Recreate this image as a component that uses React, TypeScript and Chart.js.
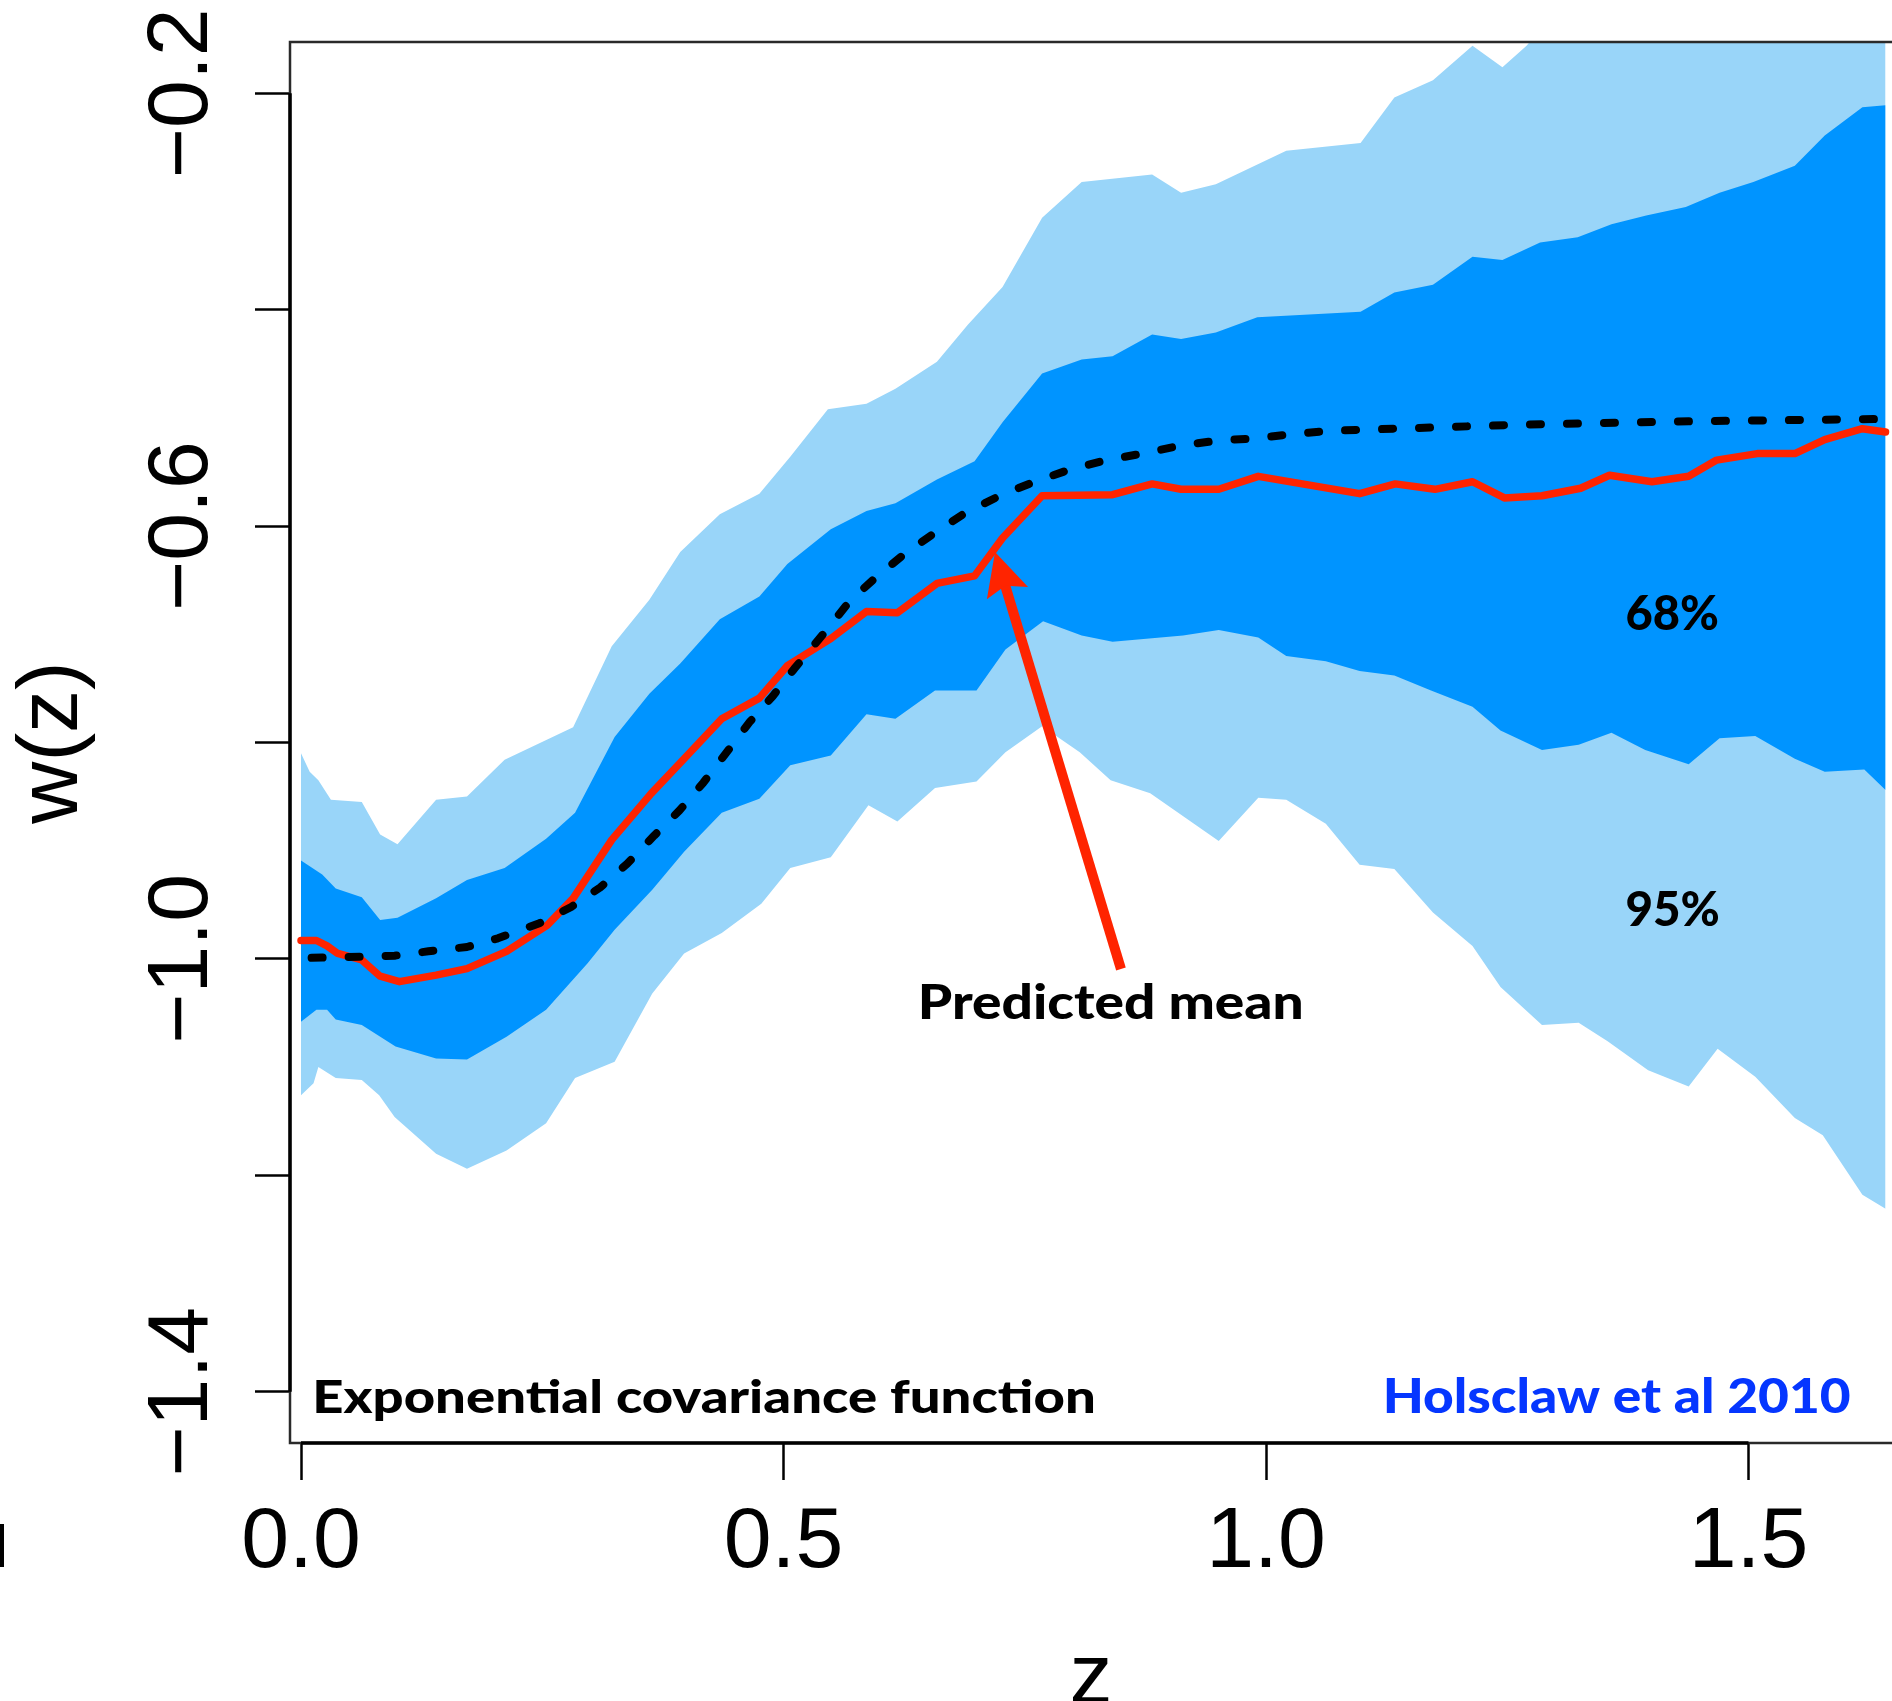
import React, { useEffect, useRef } from 'react';
import { Chart, registerables } from 'chart.js';

Chart.register(...registerables);

// ---------------- data ----------------
const upper95Z = [0.000, 0.009, 0.018, 0.031, 0.063, 0.082, 0.100, 0.140, 0.172, 0.211, 0.282, 0.322, 0.361, 0.393, 0.434, 0.475, 0.507, 0.546, 0.586, 0.616, 0.659, 0.691, 0.727, 0.768, 0.809, 0.882, 0.912, 0.948, 1.021, 1.098, 1.133, 1.173, 1.214, 1.245, 1.270, 1.300, 1.350, 1.400, 1.450, 1.500, 1.550, 1.600, 1.642];
const upper95W = [-0.810, -0.827, -0.835, -0.853, -0.855, -0.885, -0.894, -0.853, -0.850, -0.816, -0.786, -0.711, -0.668, -0.624, -0.589, -0.570, -0.536, -0.492, -0.487, -0.473, -0.448, -0.414, -0.379, -0.315, -0.282, -0.275, -0.292, -0.284, -0.253, -0.246, -0.204, -0.188, -0.156, -0.176, -0.156, -0.125, -0.115, -0.100, -0.090, -0.080, -0.065, -0.050, -0.040];

const upper68Z = [0.000, 0.022, 0.036, 0.063, 0.082, 0.100, 0.140, 0.172, 0.211, 0.254, 0.284, 0.325, 0.361, 0.393, 0.434, 0.475, 0.504, 0.549, 0.586, 0.616, 0.659, 0.698, 0.727, 0.768, 0.809, 0.841, 0.882, 0.912, 0.948, 0.991, 1.098, 1.133, 1.173, 1.214, 1.245, 1.284, 1.323, 1.358, 1.394, 1.435, 1.470, 1.505, 1.548, 1.579, 1.618, 1.642];
const upper68W = [-0.909, -0.922, -0.935, -0.943, -0.964, -0.962, -0.944, -0.927, -0.916, -0.889, -0.865, -0.795, -0.755, -0.727, -0.686, -0.665, -0.635, -0.603, -0.586, -0.579, -0.557, -0.540, -0.504, -0.459, -0.446, -0.443, -0.423, -0.427, -0.421, -0.407, -0.402, -0.384, -0.377, -0.351, -0.354, -0.338, -0.333, -0.321, -0.313, -0.305, -0.292, -0.282, -0.267, -0.239, -0.213, -0.211];

const lower68Z = [0.000, 0.016, 0.027, 0.036, 0.063, 0.098, 0.140, 0.172, 0.213, 0.254, 0.297, 0.325, 0.364, 0.397, 0.436, 0.475, 0.507, 0.549, 0.586, 0.616, 0.657, 0.700, 0.730, 0.769, 0.809, 0.841, 0.914, 0.951, 0.992, 1.021, 1.062, 1.097, 1.133, 1.171, 1.214, 1.243, 1.286, 1.324, 1.358, 1.393, 1.438, 1.470, 1.507, 1.548, 1.579, 1.620, 1.642];
const lower68W = [-1.058, -1.047, -1.047, -1.056, -1.061, -1.081, -1.092, -1.093, -1.072, -1.047, -1.004, -0.973, -0.936, -0.901, -0.865, -0.852, -0.821, -0.812, -0.774, -0.778, -0.752, -0.752, -0.714, -0.688, -0.701, -0.707, -0.701, -0.696, -0.703, -0.720, -0.725, -0.734, -0.738, -0.752, -0.767, -0.789, -0.807, -0.802, -0.791, -0.807, -0.820, -0.796, -0.794, -0.815, -0.827, -0.825, -0.844];

const lower95Z = [0.000, 0.013, 0.018, 0.036, 0.063, 0.081, 0.097, 0.140, 0.172, 0.213, 0.254, 0.284, 0.325, 0.364, 0.397, 0.436, 0.477, 0.507, 0.549, 0.588, 0.618, 0.657, 0.700, 0.730, 0.768, 0.807, 0.839, 0.880, 0.951, 0.992, 1.021, 1.062, 1.097, 1.133, 1.173, 1.214, 1.243, 1.286, 1.324, 1.354, 1.396, 1.438, 1.468, 1.507, 1.548, 1.577, 1.618, 1.642];
const lower95W = [-1.126, -1.115, -1.100, -1.110, -1.112, -1.126, -1.146, -1.180, -1.194, -1.177, -1.152, -1.110, -1.095, -1.032, -0.995, -0.976, -0.949, -0.916, -0.906, -0.858, -0.873, -0.842, -0.836, -0.809, -0.785, -0.809, -0.835, -0.847, -0.891, -0.851, -0.853, -0.875, -0.913, -0.917, -0.957, -0.988, -1.026, -1.061, -1.059, -1.076, -1.103, -1.118, -1.083, -1.109, -1.147, -1.163, -1.218, -1.231];

const meanZ = [0.000, 0.016, 0.027, 0.038, 0.063, 0.082, 0.102, 0.140, 0.172, 0.213, 0.255, 0.282, 0.322, 0.363, 0.397, 0.436, 0.475, 0.504, 0.549, 0.586, 0.618, 0.659, 0.698, 0.727, 0.768, 0.841, 0.882, 0.912, 0.951, 0.992, 1.097, 1.134, 1.175, 1.214, 1.247, 1.286, 1.326, 1.356, 1.400, 1.438, 1.467, 1.509, 1.548, 1.579, 1.618, 1.642];
const meanW = [-0.983, -0.983, -0.988, -0.995, -1.001, -1.016, -1.021, -1.015, -1.009, -0.993, -0.969, -0.944, -0.890, -0.847, -0.815, -0.778, -0.759, -0.729, -0.704, -0.679, -0.680, -0.653, -0.646, -0.611, -0.572, -0.571, -0.561, -0.566, -0.566, -0.554, -0.570, -0.561, -0.566, -0.559, -0.574, -0.572, -0.565, -0.553, -0.559, -0.554, -0.539, -0.533, -0.533, -0.520, -0.510, -0.513];

const trueZ = [0.011, 0.061, 0.097, 0.132, 0.172, 0.204, 0.247, 0.280, 0.310, 0.338, 0.366, 0.392, 0.417, 0.442, 0.465, 0.489, 0.511, 0.540, 0.569, 0.595, 0.625, 0.657, 0.688, 0.724, 0.760, 0.796, 0.834, 0.872, 0.909, 0.949, 0.988, 1.026, 1.065, 1.097, 1.273, 1.449, 1.642, 1.660];
const trueW = [-0.999, -0.998, -0.997, -0.993, -0.989, -0.981, -0.967, -0.952, -0.934, -0.912, -0.886, -0.863, -0.837, -0.808, -0.781, -0.757, -0.732, -0.701, -0.669, -0.648, -0.626, -0.606, -0.588, -0.572, -0.559, -0.548, -0.539, -0.533, -0.526, -0.521, -0.519, -0.515, -0.512, -0.511, -0.506, -0.503, -0.501, -0.501];

// ticks
const xTickValues = [0, 0.5, 1.0, 1.5];
const xTickLabels = ['0.0', '0.5', '1.0', '1.5'];
const yLabelValues = [-1.4, -1.0, -0.6, -0.2];
const yTickLabels = ['\u22121.4', '\u22121.0', '\u22120.6', '\u22120.2'];

// annotations (data coordinates)
const noteTexts = ['68%', '95%', 'Predicted mean', 'Exponential covariance function', 'Holsclaw et al 2010'];
const noteZLeft = [1.3735, 1.3735, 0.6428, 0.0155, 1.1244];
const noteZRight = [1.4684, 1.4694, 1.0371, 0.8217, 1.6056];
const noteW = [-0.696, -0.9696, -1.0555, -1.420, -1.420];
const noteColors = ['#000000', '#000000', '#000000', '#000000', '#0536ff'];
const noteSizes = [47, 47, 47, 45, 47];

const arrowTip = [0.7192, -0.6239];
const arrowTail = [0.8497, -1.0093];

// ---------------- layout / style ----------------
const W = 1892;
const H = 1701;
const LIGHT = '#99d5f9';
const DARK = '#0094ff';
const RED = '#ff2400';
const TICK_FONT = 'Liberation Sans';

const pts = (zs: number[], ws: number[]) => zs.map((z, i) => ({ x: z, y: ws[i] }));

const overlayPlugin = {
  id: 'overlay',
  afterDraw(chart: any) {
    const { ctx, chartArea: a } = chart;
    const xs = chart.scales.x;
    const ys = chart.scales.y;
    ctx.save();
    // plot box (open on the right, cropped in the reference)
    ctx.strokeStyle = '#2a2a2a';
    ctx.lineWidth = 2.5;
    ctx.beginPath();
    ctx.moveTo(a.right + 5, a.top);
    ctx.lineTo(a.left, a.top);
    ctx.lineTo(a.left, a.bottom);
    ctx.lineTo(a.right + 5, a.bottom);
    ctx.stroke();
    // R-style axis lines
    ctx.strokeStyle = '#000';
    ctx.lineWidth = 3.5;
    ctx.beginPath();
    ctx.moveTo(xs.getPixelForValue(xTickValues[0]), a.bottom);
    ctx.lineTo(xs.getPixelForValue(xTickValues[xTickValues.length - 1]), a.bottom);
    ctx.stroke();
    ctx.beginPath();
    ctx.moveTo(a.left, ys.getPixelForValue(yLabelValues[0]));
    ctx.lineTo(a.left, ys.getPixelForValue(yLabelValues[yLabelValues.length - 1]));
    ctx.stroke();

    // arrow
    const tx = xs.getPixelForValue(arrowTip[0]);
    const ty = ys.getPixelForValue(arrowTip[1]);
    const sx = xs.getPixelForValue(arrowTail[0]);
    const sy = ys.getPixelForValue(arrowTail[1]);
    const dx = tx - sx;
    const dy = ty - sy;
    const L = Math.hypot(dx, dy);
    const ux = dx / L;
    const uy = dy / L;
    const px = -uy;
    const py = ux;
    const headLen = 43;
    const halfW = 21.5;
    ctx.strokeStyle = RED;
    ctx.fillStyle = RED;
    ctx.lineWidth = 10;
    ctx.lineCap = 'butt';
    ctx.beginPath();
    ctx.moveTo(sx, sy);
    ctx.lineTo(tx - ux * headLen * 0.7, ty - uy * headLen * 0.7);
    ctx.stroke();
    const bx = tx - ux * headLen;
    const by = ty - uy * headLen;
    ctx.beginPath();
    ctx.moveTo(tx, ty);
    ctx.lineTo(bx + px * halfW, by + py * halfW);
    ctx.lineTo(tx - ux * headLen * 0.82, ty - uy * headLen * 0.82);
    ctx.lineTo(bx - px * halfW, by - py * halfW);
    ctx.closePath();
    ctx.fill();

    // text notes
    ctx.textAlign = 'left';
    ctx.textBaseline = 'alphabetic';
    for (let i = 0; i < noteTexts.length; i++) {
      ctx.font = `900 ${noteSizes[i]}px Lato, "Open Sans", sans-serif`;
      const m = ctx.measureText(noteTexts[i]);
      const inkW = m.actualBoundingBoxLeft + m.actualBoundingBoxRight;
      const left = xs.getPixelForValue(noteZLeft[i]);
      const right = xs.getPixelForValue(noteZRight[i]);
      const base = ys.getPixelForValue(noteW[i]);
      const k = (right - left) / inkW;
      ctx.save();
      ctx.translate(left, base);
      ctx.scale(k, 1);
      ctx.fillStyle = noteColors[i];
      ctx.fillText(noteTexts[i], m.actualBoundingBoxLeft, 0);
      ctx.restore();
    }

    // small stray mark at the far left of the reference
    ctx.fillStyle = '#000';
    ctx.fillRect(0, 1524, 4, 43);
    ctx.restore();
  },
};

export default function App() {
  const ref = useRef<HTMLCanvasElement | null>(null);

  useEffect(() => {
    document.body.style.margin = '0';
    document.body.style.overflow = 'hidden';
    const canvas = ref.current;
    if (!canvas) return;

    const band = (data: any[], color: string, fill: any) => ({
      data,
      borderColor: 'rgba(0,0,0,0)',
      borderWidth: 0,
      backgroundColor: color,
      fill,
      pointRadius: 0,
      pointHoverRadius: 0,
      pointHitRadius: 0,
      tension: 0,
    });

    const chart = new Chart(canvas, {
      type: 'line',
      data: {
        datasets: [
          {
            label: 'true w(z)',
            data: pts(trueZ, trueW),
            borderColor: '#000',
            borderWidth: 8,
            borderDash: [11, 26],
            borderCapStyle: 'round',
            borderJoinStyle: 'round',
            fill: false,
            pointRadius: 0,
            tension: 0,
          },
          {
            label: 'Predicted mean',
            data: pts(meanZ, meanW),
            borderColor: RED,
            borderWidth: 7.5,
            borderJoinStyle: 'round',
            borderCapStyle: 'round',
            fill: false,
            pointRadius: 0,
            tension: 0,
          },
          { label: '68% upper', ...band(pts(upper68Z, upper68W), DARK, '+1') },
          { label: '68% lower', ...band(pts(lower68Z, lower68W), 'rgba(0,0,0,0)', false) },
          { label: '95% upper', ...band(pts(upper95Z, upper95W), LIGHT, '+1') },
          { label: '95% lower', ...band(pts(lower95Z, lower95W), 'rgba(0,0,0,0)', false) },
        ] as any,
      },
      options: {
        animation: false,
        responsive: false,
        maintainAspectRatio: false,
        devicePixelRatio: 1,
        events: [],
        layout: { padding: { top: 42, left: 0, right: 0, bottom: 0 } },
        plugins: {
          legend: { display: false },
          tooltip: { enabled: false },
        },
        scales: {
          x: {
            type: 'linear',
            min: -0.0114,
            max: 1.6487,
            afterFit: (s: any) => { s.height = H - 1443; },
            border: { display: false },
            grid: { drawOnChartArea: false, drawTicks: true, tickLength: 37, tickWidth: 2.5, tickColor: '#000' },
            ticks: {
              stepSize: 0.5,
              autoSkip: false,
              includeBounds: false,
              maxRotation: 0,
              minRotation: 0,
              padding: 11.5,
              color: '#000',
              font: { family: TICK_FONT, size: 86 },
              callback: (v: any) => {
                const i = xTickValues.findIndex((t) => Math.abs(t - Number(v)) < 1e-6);
                return i >= 0 ? xTickLabels[i] : '';
              },
            },
            title: {
              display: true,
              text: 'z',
              color: '#000',
              font: { family: TICK_FONT, size: 86, lineHeight: 0.5 },
              padding: { top: 0, bottom: 0 },
            },
          },
          y: {
            type: 'linear',
            min: -1.4474,
            max: -0.1526,
            afterFit: (s: any) => { s.width = 290; },
            border: { display: false },
            grid: { drawOnChartArea: false, drawTicks: true, tickLength: 35, tickWidth: 2.5, tickColor: '#000' },
            ticks: {
              stepSize: 0.2,
              autoSkip: false,
              includeBounds: false,
              minRotation: 90,
              maxRotation: 90,
              crossAlign: 'center',
              padding: -13.4,
              color: '#000',
              font: { family: TICK_FONT, size: 86 },
              callback: (v: any) => {
                const i = yLabelValues.findIndex((t) => Math.abs(t - Number(v)) < 1e-6);
                return i >= 0 ? yTickLabels[i] : '';
              },
            },
            title: {
              display: true,
              text: 'w(z)',
              color: '#000',
              font: { family: TICK_FONT, size: 86, lineHeight: 1.2 },
              padding: { top: 2, bottom: 0 },
            },
          },
        },
      } as any,
      plugins: [overlayPlugin],
    });

    return () => chart.destroy();
  }, []);

  return (
    <canvas
      ref={ref}
      width={W}
      height={H}
      style={{ display: 'block', width: W, height: H }}
    />
  );
}
